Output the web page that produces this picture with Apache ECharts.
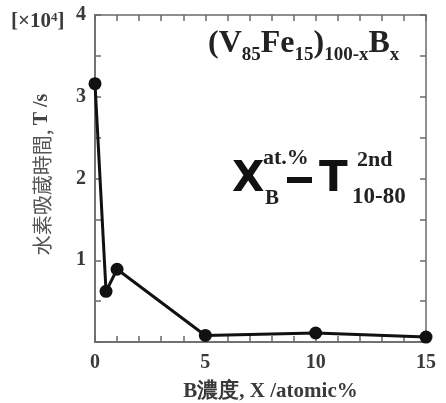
<!DOCTYPE html>
<html><head><meta charset="utf-8">
<script src="https://cdn.jsdelivr.net/npm/echarts@6/dist/echarts.min.js"></script>
<style>html,body{margin:0;padding:0;background:#fff}#c{width:446px;height:403px}</style>
</head><body><div id="c"></div>
<script>
var xValues = [0, 0.5, 1, 5, 10, 15];
var tValues = [3.16, 0.62, 0.89, 0.08, 0.11, 0.06];
var xTicks = [0, 5, 10, 15];
var yTicks = [0, 1, 2, 3, 4];

var serif = '"Liberation Serif","DejaVu Serif",serif';
var axisCol = '#6a6a6a';
var txtCol = '#3a3a3a';
var G = {left:95, right:20, top:15, bottom:61};
var W = 446, H = 403;
var plotW = W - G.left - G.right, plotH = H - G.top - G.bottom;
var xMin = xTicks[0], xMax = xTicks[xTicks.length-1];
var yMin = yTicks[0], yMax = yTicks[yTicks.length-1];

var chart = echarts.init(document.getElementById('c'));
function line(){ return {show:true, onZero:false, lineStyle:{color:axisCol, width:1.5}}; }
function tick(){ return {show:true, length:6, lineStyle:{color:axisCol, width:1.5}}; }
function minor(n){ return {show:true, splitNumber:n, length:6, lineStyle:{color:axisCol, width:1.5}}; }
// tick-only axes placed on the opposite side (via offset) so that ticks point into the plot
function xTickAxis(pos){
  return {type:'value', position:pos, offset:-plotH, min:xMin, max:xMax, interval:5,
    axisLine:line(), axisTick:tick(), minorTick:minor(5), axisLabel:{show:false}, splitLine:{show:false}};
}
function yTickAxis(pos){
  return {type:'value', position:pos, offset:-plotW, min:yMin, max:yMax, interval:1,
    axisLine:line(), axisTick:tick(), minorTick:minor(2), axisLabel:{show:false}, splitLine:{show:false}};
}
chart.setOption({
  animation:false,
  grid:Object.assign({outerBoundsMode:'none', containLabel:false}, G),
  xAxis:[{
    type:'value', position:'bottom', min:xMin, max:xMax, interval:5,
    axisLine:line(), axisTick:{show:false}, minorTick:{show:false},
    splitLine:{show:false},
    axisLabel:{color:txtCol, fontFamily:serif, fontWeight:'bold', fontSize:20, margin:11},
    name:'B濃度, X /atomic%', nameLocation:'middle', nameGap:39,
    nameTextStyle:{color:txtCol, fontFamily:serif, fontWeight:'bold', fontSize:21, padding:[0,0,0,20]}
  }, xTickAxis('top'), xTickAxis('bottom')],
  yAxis:[{
    type:'value', position:'left', min:yMin, max:yMax, interval:1,
    axisLine:line(), axisTick:{show:false}, minorTick:{show:false},
    splitLine:{show:false},
    axisLabel:{color:txtCol, fontFamily:serif, fontWeight:'bold', fontSize:20, margin:9,
      formatter:function(v){return v===0?'':String(v);}},
    name:'{a|水素吸蔵時間, }{b|T /s}', nameLocation:'middle', nameGap:43, nameRotate:90,
    nameTextStyle:{padding:[0,0,0,8], rich:{
      a:{color:'#555', fontFamily:'"Noto Sans CJK JP",serif', fontSize:20},
      b:{color:'#444', fontFamily:serif, fontWeight:'bold', fontSize:20}
    }}
  }, yTickAxis('right'), yTickAxis('left')],
  series:[{
    type:'line', xAxisIndex:0, yAxisIndex:0,
    data:xValues.map(function(x,i){return [x, tValues[i]];}),
    symbol:'circle', symbolSize:13,
    lineStyle:{color:'#111', width:3}, itemStyle:{color:'#111'}
  }],
  graphic:[
    {type:'text', left:11, top:11, style:{
      text:'[×10{s|4}]', fill:txtCol, font:'bold 21px '+serif,
      rich:{s:{fontSize:13, fontWeight:'bold', fontFamily:serif, fill:txtCol, verticalAlign:'top', padding:[0,0,9,0]}}
    }},
    {type:'text', left:208, top:28, style:{
      text:'{m|(V}{s|85}{m|Fe}{s|15}{m|)}{s|100-x}{m|B}{s|x}',
      rich:{
        m:{fontSize:32, fontWeight:'bold', fontFamily:serif, fill:'#222', verticalAlign:'bottom'},
        s:{fontSize:19, fontWeight:'bold', fontFamily:serif, fill:'#222', verticalAlign:'bottom', padding:[0,0,-5,0]}
      }
    }},
    {type:'text', style:{x:232, y:180, verticalAlign:'middle', text:'X', font:'bold 42px "DejaVu Sans",sans-serif', fill:'#111'}},
    {type:'text', style:{x:263, y:158, verticalAlign:'middle', text:'at.%', font:'bold 22px '+serif, fill:'#222'}},
    {type:'text', style:{x:265, y:199, verticalAlign:'middle', text:'B', font:'bold 21px '+serif, fill:'#222'}},
    {type:'rect', shape:{x:287, y:177, width:25, height:6}, style:{fill:'#111'}},
    {type:'text', style:{x:319, y:180, verticalAlign:'middle', text:'T', font:'bold 42px "DejaVu Sans",sans-serif', fill:'#111'}},
    {type:'text', style:{x:357, y:160, verticalAlign:'middle', text:'2nd', font:'bold 22px '+serif, fill:'#222'}},
    {type:'text', style:{x:352, y:197, verticalAlign:'middle', text:'10-80', font:'bold 23px '+serif, fill:'#222'}}
  ]
});
</script></body></html>
